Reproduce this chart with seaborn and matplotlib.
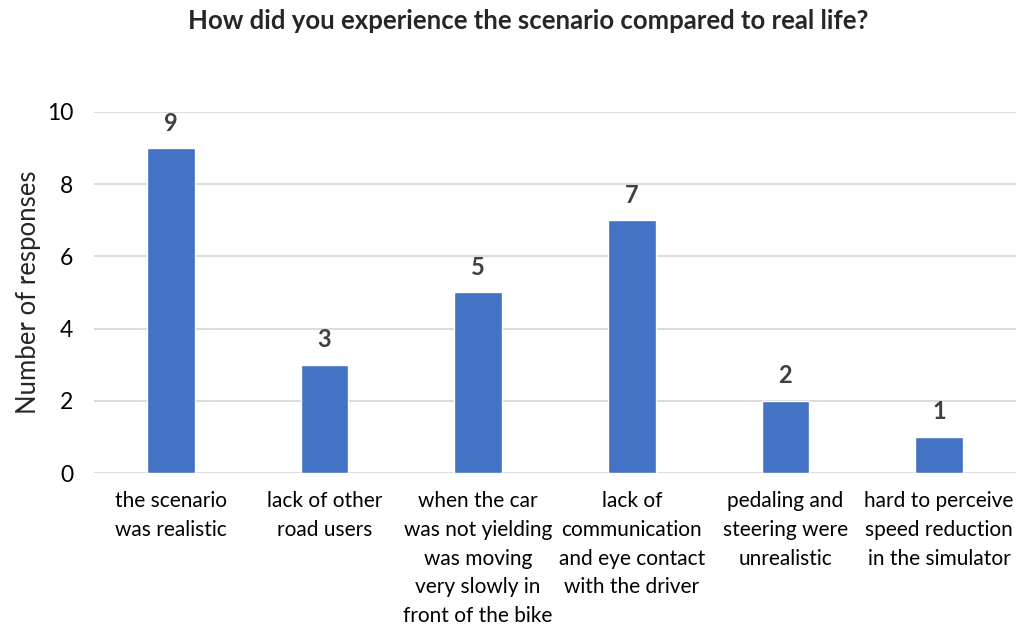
#!/usr/bin/env python3

import pandas as pd
import seaborn as sns
import matplotlib.pyplot as plt

categories = [
    "the scenario\nwas realistic",
    "lack of other\nroad users",
    "when the car\nwas not yielding\nwas moving\nvery slowly in\nfront of the bike",
    "lack of\ncommunication\nand eye contact\nwith the driver",
    "pedaling and\nsteering were\nunrealistic",
    "hard to perceive\nspeed reduction\nin the simulator",
]
responses = [9, 3, 5, 7, 2, 1]
y_ticks = [0, 2, 4, 6, 8, 10]


def main():
    df = pd.DataFrame({"answer": categories, "count": responses})

    sns.set_style("whitegrid")
    plt.rcParams["font.family"] = ["Lato", "DejaVu Sans"]

    fig = plt.figure(figsize=(10.16, 6.26), dpi=100)
    ax = fig.add_axes([0.0925, 0.2444, 0.9075, 0.5767])

    sns.barplot(data=df, x="answer", y="count", color="#4472C4",
                saturation=1, width=0.31, ax=ax)

    # value labels above each bar
    for i, v in enumerate(responses):
        ax.annotate(str(v), (i, v), xytext=(0, 18), textcoords="offset points",
                    ha="center", va="center", fontsize=17, fontweight="bold",
                    color="#404040")

    ax.set_ylim(0, 10)
    ax.set_yticks(y_ticks)
    ax.set_xlim(-0.5, len(categories) - 0.5)
    ax.grid(axis="y", color="#D9D9D9", linewidth=1.3)
    ax.grid(axis="x", visible=False)
    for s in ax.spines.values():
        s.set_visible(False)
    ax.tick_params(axis="y", labelsize=16.5, pad=15, length=0, colors="#000000")
    ax.tick_params(axis="x", labelsize=15, pad=13, length=0, colors="#000000")
    for lbl in ax.get_xticklabels():
        lbl.set_linespacing(1.55)
        lbl.set_va("top")

    ax.set_xlabel("")
    ax.set_ylabel("Number of responses", fontsize=18.5, labelpad=4)
    fig.text(0.52, 0.966, "How did you experience the scenario compared to real life?",
             ha="center", va="center", fontsize=18.5, fontweight="bold")

    fig.savefig("out.png", dpi=100)


if __name__ == '__main__':
    main()
